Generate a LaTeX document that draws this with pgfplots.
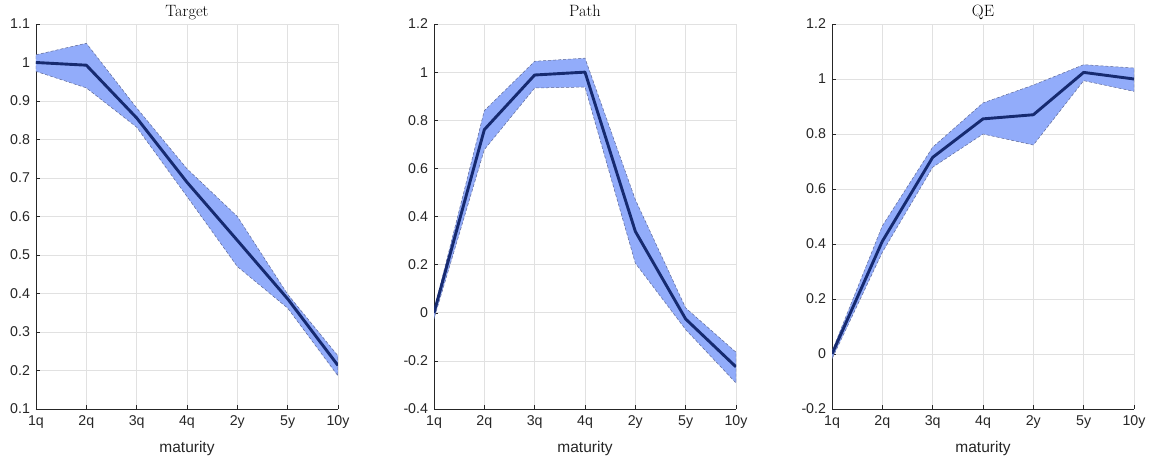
\documentclass[border=0pt]{standalone}
\usepackage{pgfplots}
\pgfplotsset{compat=1.18}
\usepackage{fontspec}
\setsansfont{Liberation Sans}
\newfontfamily\tickfont{Liberation Sans}
\definecolor{bandfill}{RGB}{146,172,250}
\definecolor{bandedge}{RGB}{95,105,150}
\definecolor{meanline}{RGB}{22,42,112}
\definecolor{gridc}{RGB}{225,225,225}
\definecolor{axc}{RGB}{38,38,38}
\pgfplotsset{
  matstyle/.style={
    scale only axis, width=302pt, height=385pt,
    clip mode=individual,
    xmin=0, xmax=6, xtick={0,1,2,3,4,5,6},
    xticklabels={1q,2q,3q,4q,2y,5y,10y},
    axis x line*=bottom, axis y line*=left,
    axis line style={draw=axc,-},
    tick style={draw=axc, line width=0.5pt},
    major tick length=4pt, tick align=inside,
    grid=major, major grid style={draw=gridc, line width=0.6pt},
    ticklabel style={font=\tickfont\fontsize{14.2}{16}\selectfont, text=axc},
    xticklabel style={yshift=-3pt},
    yticklabel style={xshift=-2.5pt},
    /pgf/number format/assume math mode=true,
    xlabel={maturity},
    xlabel style={font=\tickfont\fontsize{15.5}{17}\selectfont, text=axc,
      at={(axis description cs:0.5,0)}, anchor=base, yshift=-43pt},
    every axis plot/.append style={line join=round},
  },
  band/.style={fill=bandfill, draw=bandedge, line width=0.5pt, dash pattern=on 3pt off 2pt},
  meanl/.style={draw=meanline, line width=2.9pt, solid},
}
\newcommand{\ttl}[1]{\node[anchor=base, inner sep=0pt, text=black, font=\fontsize{16.4}{18}\selectfont] at (axis description cs:0.5,1.02) {#1};}
\begin{document}
\begin{tikzpicture}
\path[use as bounding box] (-36pt,-49pt) rectangle (1117pt,409pt);
% Target
\begin{axis}[matstyle, at={(0pt,0pt)}, anchor=south west,
  ymin=0.1, ymax=1.1, ytick={0.1,0.2,...,1.1},
  yticklabels={0.1,0.2,0.3,0.4,0.5,0.6,0.7,0.8,0.9,1,1.1}]
\addplot[band] coordinates {
 (0,1.020) (1,1.050) (2,0.882) (3,0.724) (4,0.600) (5,0.398) (6,0.238)
 (6,0.186) (5,0.362) (4,0.470) (3,0.652) (2,0.832) (1,0.934) (0,0.977)} -- cycle;
\addplot[meanl] coordinates {
 (0,1.000) (1,0.993) (2,0.856) (3,0.689) (4,0.538) (5,0.386) (6,0.213)};
\ttl{Target}
\end{axis}
% Path
\begin{axis}[matstyle, at={(398pt,0pt)}, anchor=south west,
  ymin=-0.4, ymax=1.2, ytick={-0.4,-0.2,...,1.2},
  yticklabels={-0.4,-0.2,0,0.2,0.4,0.6,0.8,1,1.2}]
\addplot[band] coordinates {
 (0,0.010) (1,0.840) (2,1.045) (3,1.058) (4,0.470) (5,0.020) (6,-0.164)
 (6,-0.292) (5,-0.070) (4,0.206) (3,0.938) (2,0.934) (1,0.678) (0,-0.025)} -- cycle;
\addplot[meanl] coordinates {
 (0,0.000) (1,0.761) (2,0.988) (3,1.000) (4,0.338) (5,-0.026) (6,-0.225)};
\ttl{Path}
\end{axis}
% QE
\begin{axis}[matstyle, at={(796pt,0pt)}, anchor=south west,
  ymin=-0.2, ymax=1.2, ytick={-0.2,0,...,1.2},
  yticklabels={-0.2,0,0.2,0.4,0.6,0.8,1,1.2}]
\addplot[band] coordinates {
 (0,0.010) (1,0.466) (2,0.752) (3,0.913) (4,0.978) (5,1.052) (6,1.040)
 (6,0.955) (5,0.994) (4,0.760) (3,0.800) (2,0.679) (1,0.370) (0,-0.018)} -- cycle;
\addplot[meanl] coordinates {
 (0,0.000) (1,0.410) (2,0.715) (3,0.855) (4,0.870) (5,1.024) (6,1.000)};
\ttl{QE}
\end{axis}
\end{tikzpicture}
\end{document}
